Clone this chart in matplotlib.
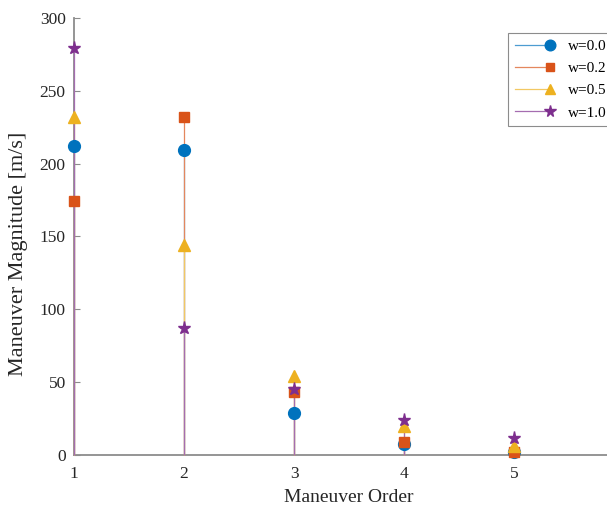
import numpy as np
import matplotlib
matplotlib.use("Agg")
import matplotlib.pyplot as plt
import matplotlib.colors as mcolors
from matplotlib.lines import Line2D
from matplotlib.legend_handler import HandlerBase

# ---- data ----
orders = [1, 2, 3, 4, 5]
w_labels = ["w=0.0", "w=0.2", "w=0.5", "w=1.0"]
mag_w00 = [212, 209, 29, 7.5, 2]
mag_w02 = [174, 232, 43, 9, 1.8]
mag_w05 = [232, 144, 54, 20, 6.5]
mag_w10 = [279, 87, 45, 24, 12]

series = [mag_w00, mag_w02, mag_w05, mag_w10]
colors = ["#0072BD", "#D95319", "#EDB120", "#7E2F8E"]
markers = ["o", "s", "^", "*"]
msizes = [8.5, 6.5, 8.5, 9.5]

plt.rcParams["font.family"] = ["Liberation Serif", "DejaVu Serif"]


def lighten(c, f=0.3):
    rgb = np.array(mcolors.to_rgb(c))
    return tuple(rgb * (1 - f) + f)


class StemLegendHandler(HandlerBase):
    # line across the handle with the marker sitting at its right end
    def create_artists(self, legend, orig_handle, xdescent, ydescent,
                       width, height, fontsize, trans):
        y = height / 2 - ydescent
        x0, x1 = -xdescent, width - xdescent
        ln = Line2D([x0, x1], [y, y], color=lighten(orig_handle.get_color()), lw=0.9)
        mk = Line2D([x1], [y], ls="", marker=orig_handle.get_marker(),
                    markersize=orig_handle.get_markersize(),
                    color=orig_handle.get_color())
        ln.set_transform(trans)
        mk.set_transform(trans)
        return [ln, mk]


fig = plt.figure(figsize=(6.07, 5.09), dpi=100)
ax = fig.add_axes([0.122, 0.106, 0.906, 0.859])

handles = []
for vals, c, m, ms, lab in zip(series, colors, markers, msizes, w_labels):
    ax.vlines(orders, 0, vals, color=lighten(c), lw=0.9, zorder=2, clip_on=False)
    ax.plot(orders, vals, ls="", marker=m, color=c, markersize=ms, zorder=3,
            clip_on=False)
    handles.append(Line2D([], [], color=c, marker=m, markersize=ms * 0.9, label=lab))

ax.set_xlim(1, 6)
ax.set_ylim(0, 300)
ax.set_xticks([1, 2, 3, 4, 5])
ax.set_yticks([0, 50, 100, 150, 200, 250, 300])

for side in ["top", "right"]:
    ax.spines[side].set_visible(False)
for side in ["left", "bottom"]:
    ax.spines[side].set_color("#8c8c8c")
    ax.spines[side].set_linewidth(1.3)
    ax.spines[side].set_zorder(1)

ax.tick_params(axis="y", direction="in", length=4, color="#8c8c8c",
               labelsize=12.5, labelcolor="#262626", pad=6)
ax.tick_params(axis="x", length=0, labelsize=12.5, labelcolor="#262626", pad=8)

ax.set_xlabel("Maneuver Order", fontsize=14, color="#262626", labelpad=5)
ax.set_ylabel("Maneuver Magnitude [m/s]", fontsize=16, color="#262626")
ax.yaxis.set_label_coords(-0.083, 0.46)

leg = ax.legend(handles=handles, loc="upper left", bbox_to_anchor=(0.789, 0.966),
                borderaxespad=0,
                handler_map={Line2D: StemLegendHandler()},
                fontsize=11, frameon=True, fancybox=False, framealpha=1,
                edgecolor="#8c8c8c", handlelength=2.3, handletextpad=1.2,
                labelspacing=0.55, borderpad=0.45)
leg.get_frame().set_linewidth(0.8)

fig.savefig("out.png", dpi=100)
